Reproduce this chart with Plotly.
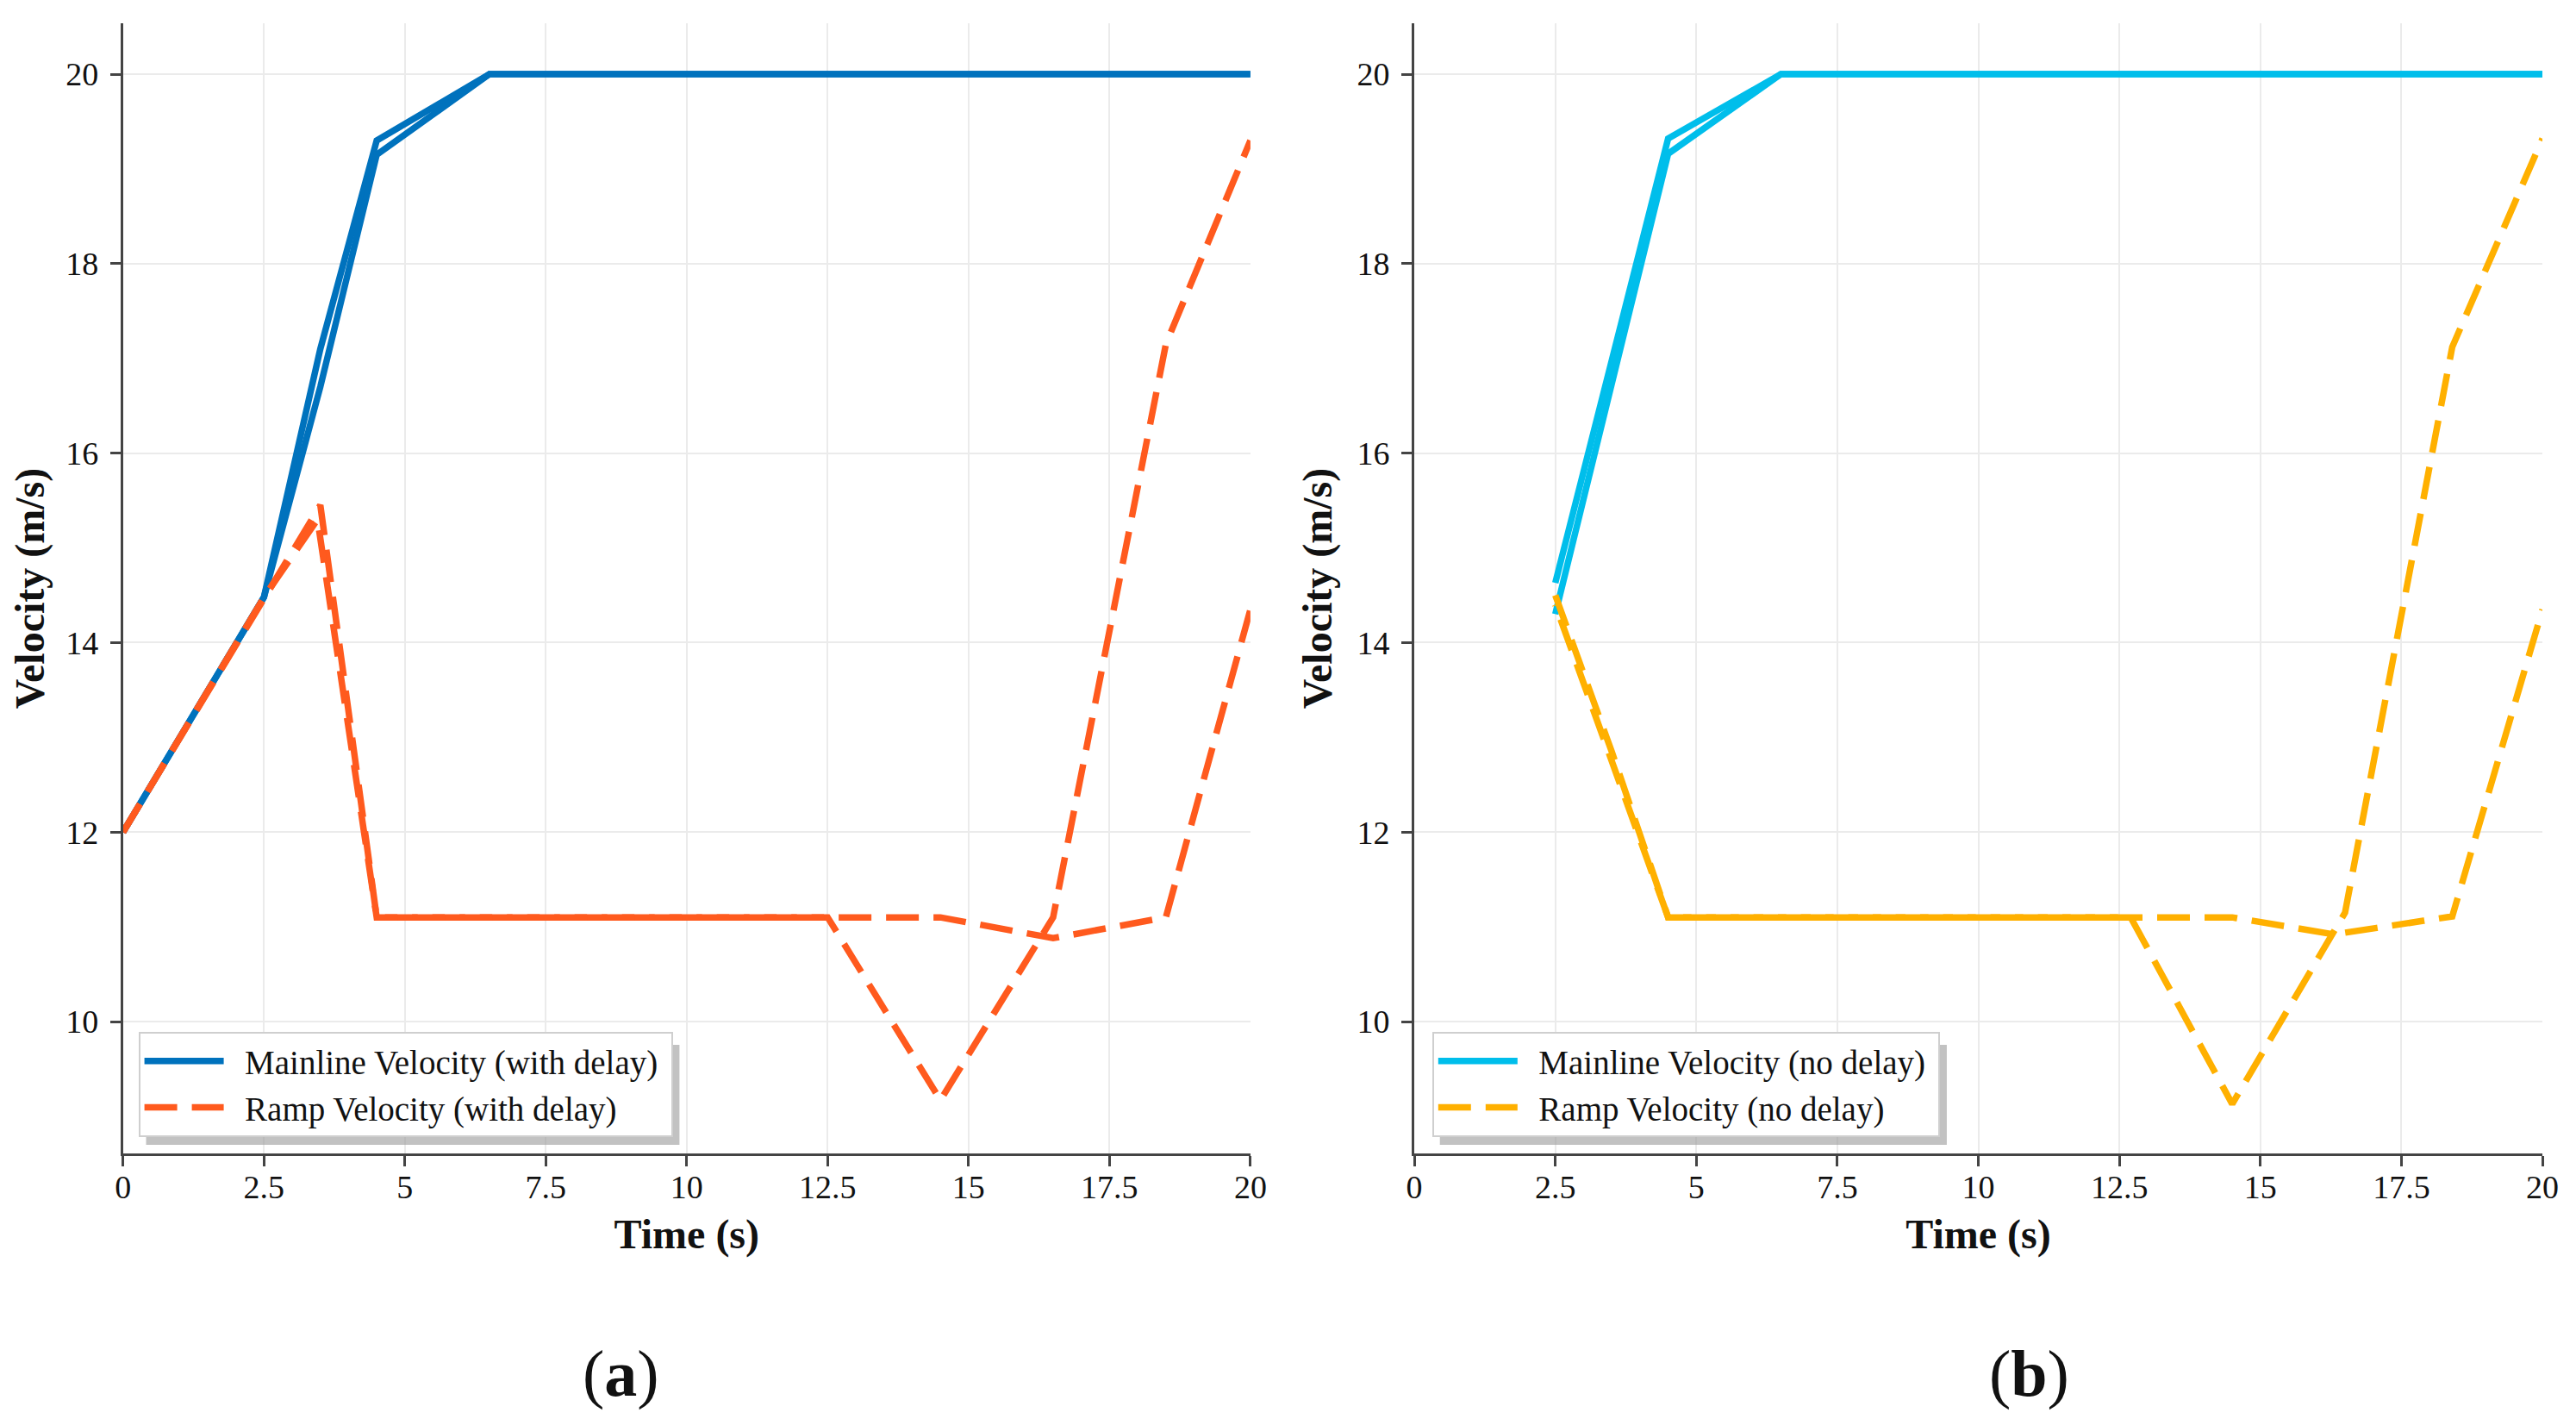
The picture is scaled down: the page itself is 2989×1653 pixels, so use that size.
import plotly.graph_objects as go

# ---- data (time in s, velocity in m/s) ----
# (a) with delay
t_main_a1 = [0, 2.5, 3.5, 4.5, 6.5, 20]
v_main_a1 = [12, 14.48, 17.1, 19.3, 20, 20]
t_main_a2 = [0, 2.5, 3.5, 4.5, 6.5, 20]
v_main_a2 = [12, 14.48, 16.7, 19.15, 20, 20]
t_ramp_a1 = [0, 2.5, 3.5, 4.5, 12.5, 14.5, 16.5, 18.5, 20]
v_ramp_a1 = [12, 14.48, 15.45, 11.1, 11.1, 9.17, 11.1, 17.15, 19.3]
t_ramp_a2 = [0, 2.5, 3.45, 4.5, 12.5, 14.5, 16.5, 18.5, 20]
v_ramp_a2 = [12, 14.48, 15.3, 11.1, 11.1, 11.1, 10.88, 11.1, 14.35]

# (b) no delay
t_main_b1 = [2.5, 4.5, 6.5, 20]
v_main_b1 = [14.63, 19.32, 20, 20]
t_main_b2 = [2.5, 4.5, 6.5, 20]
v_main_b2 = [14.3, 19.16, 20, 20]
t_ramp_b1 = [2.5, 3.5, 4.5, 12.7, 14.5, 16.3, 16.5, 18.4, 20]
v_ramp_b1 = [14.5, 12.85, 11.1, 11.1, 9.13, 10.92, 11.15, 17.12, 19.32]
t_ramp_b2 = [2.5, 3.5, 4.5, 14.5, 16.3, 18.4, 20]
v_ramp_b2 = [14.4, 12.75, 11.1, 11.1, 10.92, 11.11, 14.35]

x_ticks = [0, 2.5, 5, 7.5, 10, 12.5, 15, 17.5, 20]
x_labels = ["0", "2.5", "5", "7.5", "10", "12.5", "15", "17.5", "20"]
y_ticks = [10, 12, 14, 16, 18, 20]

# ---- styling ----
FONT = "Liberation Serif"
BLUE, ORANGE = "#0072BD", "#FF5A1E"
CYAN, AMBER = "#00BEEB", "#FFB000"
LW = 7.5
DASH = "38px,17px"
DASH_SHIFTED = "1px,17px,37px,0px"   # same pattern, phase moved
NB = "\u00a0"

W, H = 2973, 1634   # page has an 8px body margin
def px(x):
    return (x - 8) / W
def py(y):
    return 1 - (y - 8) / H

fig = go.Figure()

def add(x, y, color, dash, name, xa, ya, leg, show):
    fig.add_trace(go.Scatter(
        x=x, y=y, mode="lines", name=NB * 2 + name + NB,
        line=dict(color=color, width=LW, dash=dash),
        xaxis=xa, yaxis=ya, legend=leg, legendgroup=name, showlegend=show,
    ))

add(t_main_a1, v_main_a1, BLUE, "solid", "Mainline Velocity (with delay)", "x", "y", "legend", True)
add(t_main_a2, v_main_a2, BLUE, "solid", "Mainline Velocity (with delay)", "x", "y", "legend", False)
add(t_ramp_a1, v_ramp_a1, ORANGE, DASH, "Ramp Velocity (with delay)", "x", "y", "legend", True)
add(t_ramp_a2, v_ramp_a2, ORANGE, DASH, "Ramp Velocity (with delay)", "x", "y", "legend", False)

add(t_main_b1, v_main_b1, CYAN, "solid", "Mainline Velocity (no delay)", "x2", "y2", "legend2", True)
add(t_main_b2, v_main_b2, CYAN, "solid", "Mainline Velocity (no delay)", "x2", "y2", "legend2", False)
add(t_ramp_b1, v_ramp_b1, AMBER, DASH, "Ramp Velocity (no delay)", "x2", "y2", "legend2", True)
add(t_ramp_b2, v_ramp_b2, AMBER, DASH_SHIFTED, "Ramp Velocity (no delay)", "x2", "y2", "legend2", False)

tick_font = dict(family=FONT, size=38, color="#111111")
title_font = dict(family=FONT, size=48, color="#111111", weight="bold")

def xaxis(domain, anchor):
    return dict(
        domain=domain, anchor=anchor, range=[0, 20],
        tickvals=x_ticks, ticktext=x_labels,
        showline=True, linecolor="#444444", linewidth=3,
        ticks="outside", ticklen=12, tickwidth=3, tickcolor="#444444",
        showgrid=True, gridcolor="#ebebeb", gridwidth=2,
        zeroline=False, tickfont=tick_font, ticklabelstandoff=-9,
        title=dict(text="Time (s)", font=title_font, standoff=18),
    )

def yaxis(anchor):
    return dict(
        domain=[py(1338), py(27)], anchor=anchor, range=[8.608, 20.537],
        tickvals=y_ticks,
        showline=True, linecolor="#444444", linewidth=3,
        ticks="outside", ticklen=12, tickwidth=3, tickcolor="#444444",
        showgrid=True, gridcolor="#ebebeb", gridwidth=2,
        zeroline=False, tickfont=tick_font, ticklabelstandoff=6,
        title=dict(text="Velocity (m/s)", font=title_font, standoff=14),
    )

def legend(x0, y1):
    return dict(
        x=px(x0), y=py(y1), xanchor="left", yanchor="bottom",
        bgcolor="white", bordercolor="#cfcfcf", borderwidth=2,
        font=dict(family=FONT, size=39, color="#111111"),
        itemwidth=92, tracegroupgap=0,
    )

fig.update_layout(
    width=W, height=H,
    margin=dict(l=0, r=0, t=0, b=0),
    paper_bgcolor="white", plot_bgcolor="white",
    xaxis=xaxis([px(134), px(1455)], "y"),
    yaxis=yaxis("x"),
    xaxis2=xaxis([px(1647), px(2969)], "y2"),
    yaxis2=yaxis("x2"),
    legend=legend(152, 1319),
    legend2=legend(1668, 1319),
)

# legend drop shadows (sized to the legend boxes)
for x0, w in ((152, 625), (1668, 594)):
    fig.add_shape(type="rect", xref="paper", yref="paper", layer="above",
                  x0=px(x0 + 9), x1=px(x0 + w + 9), y0=py(1328), y1=py(1212),
                  fillcolor="#9a9a9a", opacity=0.6, line_width=0)

# panel captions
for label, xc in (("a", 717), ("b", 2368)):
    fig.add_annotation(text="(<b>%s</b>)" % label, xref="paper", yref="paper",
                       x=px(xc), y=py(1593), xanchor="center", yanchor="middle",
                       showarrow=False,
                       font=dict(family=FONT, size=76, color="#111111"))

fig.write_html("out.html")
